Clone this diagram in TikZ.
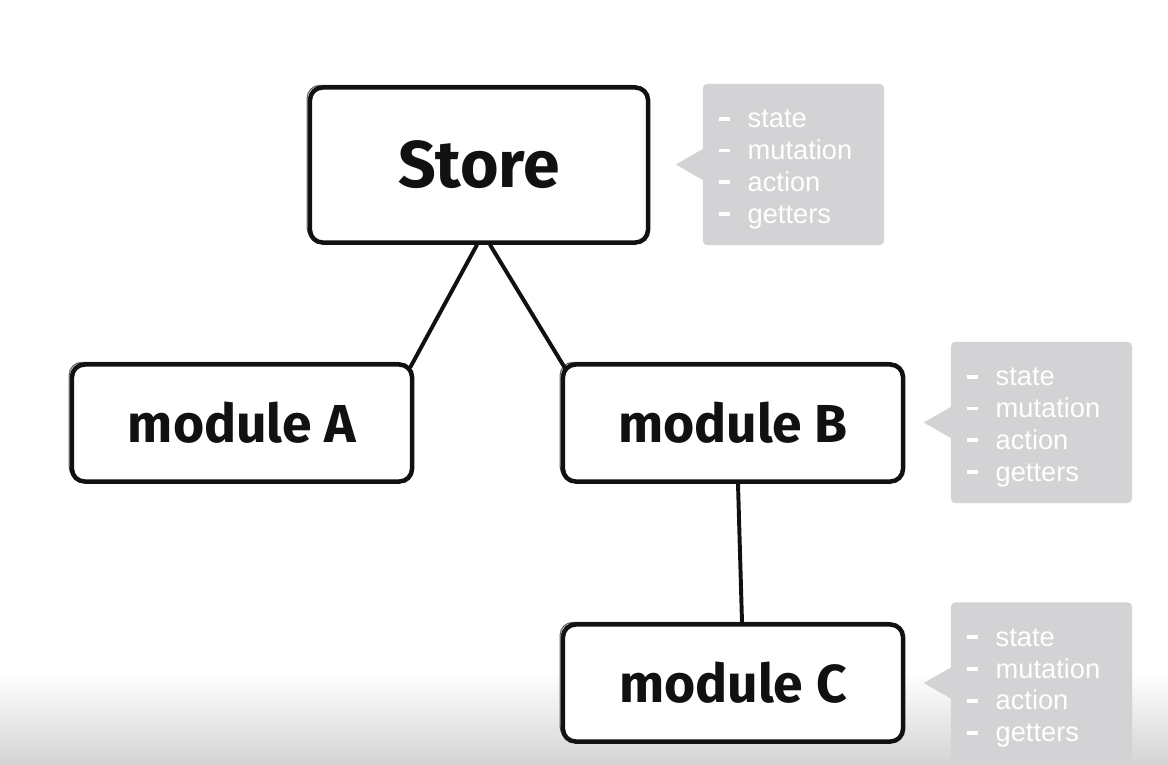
\documentclass[tikz,border=0pt]{standalone}
\usepackage{fontspec}
\setmainfont{Liberation Sans}
\newfontfamily\boxfont{Fira Sans}
\usetikzlibrary{calc,positioning}
\definecolor{bInk}{HTML}{111111}
\definecolor{bNote}{HTML}{D3D2D4}
\definecolor{bFade}{HTML}{D4D4D4}
\newcommand{\notedash}{\makebox[20pt][l]{\rule[5pt]{7.6pt}{2.8pt}}}
\newcommand{\noteitems}{\rule{0pt}{19.6pt}\notedash state\\ \notedash mutation\\ \notedash action\\ \notedash getters}

\begin{document}
\begin{tikzpicture}[
  x=0.025cm, y=-0.025cm,
  sketch/.style={rectangle, rounded corners=9pt, draw=bInk, line width=3.2pt,
                 fill=white, text=bInk, inner sep=0pt,
                 preaction={draw=bInk!65, line width=0.8pt,
                            transform canvas={shift={(-2pt,1.5pt)}}},
                 font=\boxfont\bfseries\fontsize{38}{40}\selectfont},
  store/.style={sketch, minimum width=8.45cm, minimum height=3.875cm,
                font=\boxfont\bfseries\fontsize{47}{50}\selectfont},
  module/.style={sketch, minimum width=8.5cm, minimum height=2.925cm},
  link/.style={draw=bInk, line width=2.8pt, line cap=round},
  note/.style={rectangle, rounded corners=3pt, fill=bNote, text=white,
               minimum width=4.525cm, minimum height=4.025cm,
               text width=3.7cm, align=left, inner sep=0pt,
               font=\fontsize{19.4}{22.7}\selectfont},
  tip/.style={fill=bNote},
]
\useasboundingbox (0,0) rectangle (1168,764);
% faded bottom edge
\shade[top color=white, bottom color=bFade] (0,672) rectangle (1168,764);

% boxes
\node[store] (store) at (479,165) {Store};
\node[module] (modA) at (242,423) {module A};
\node[module] (modB) at (733,423) {module B};
\node[module] (modC) at (733,683) {module C};

% links
\draw[link] ($(store.south)+(-2,0)$) -- ($(modA.north east)+(-4,5)$);
\draw[link] ($(store.south)+(11,0)$) -- ($(modB.north west)+(5,7)$);
\draw[link] ($(modB.south)+(5,0)$) -- ($(modC.north)+(9,0)$);

% notes
\node[note] (noteS) at (793.5,164.5) {\noteitems};
\node[note] (noteB) at (1041.5,422.5) {\noteitems};
\node[note] (noteC) at (1041.5,683) {\noteitems};
\foreach \n in {noteS,noteB,noteC}
  \fill[tip] ($(\n.west)+(1,-16)$) -- ($(\n.west)+(-27,0)$) -- ($(\n.west)+(1,16)$) -- cycle;

\end{tikzpicture}
\end{document}
